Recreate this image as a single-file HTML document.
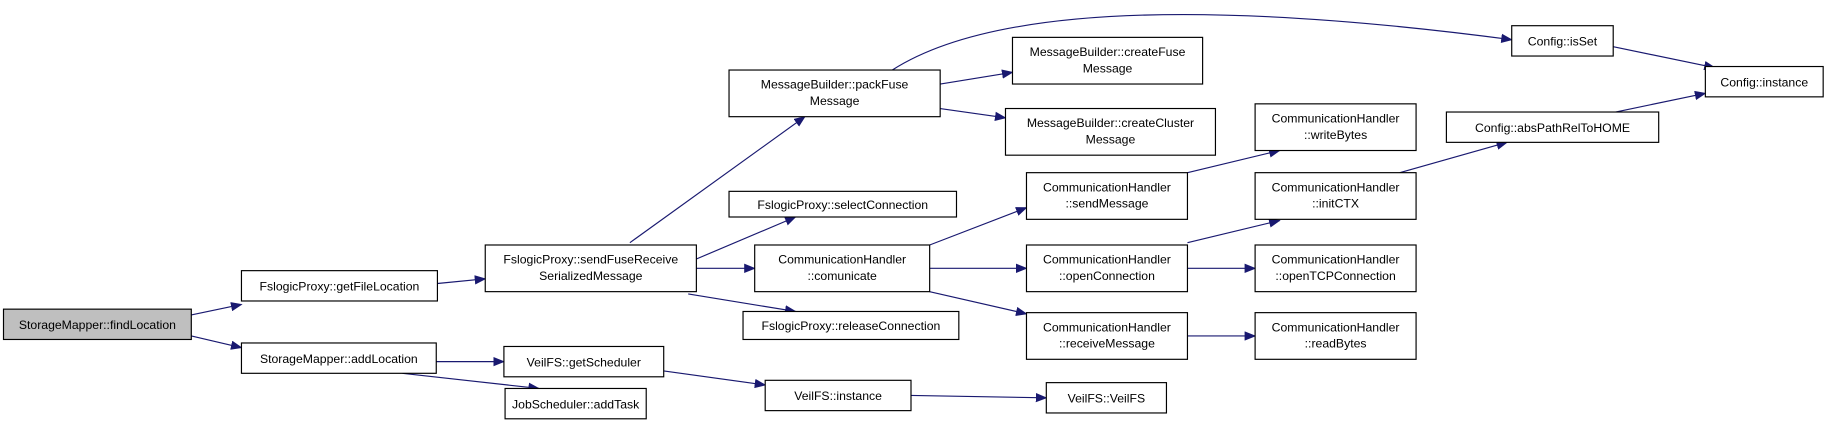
<!DOCTYPE html>
<html><head><meta charset="utf-8"><style>
html,body{margin:0;padding:0;background:#fff;}
svg{display:block;}
text{font-family:"Liberation Sans",sans-serif;font-size:10.5px;fill:#000;text-anchor:middle;}
rect{fill:#fff;stroke:#000;stroke-width:1;}
.e{stroke:#191970;stroke-width:1;fill:none;marker-end:url(#a);}
</style></head><body>
<svg width="1829" height="434" viewBox="0 0 1568 372" xmlns="http://www.w3.org/2000/svg">
<defs><marker id="a" markerWidth="10" markerHeight="8" refX="9" refY="4" orient="auto" markerUnits="userSpaceOnUse"><path d="M0,0 L10,4 L0,8 z" fill="#191970"/></marker></defs>

<path class="e" d="M164,270 L207,261"/>
<path class="e" d="M164,288 L207,298"/>
<path class="e" d="M375,243 L416,239"/>
<path class="e" d="M374,310 L432,310"/>
<path class="e" d="M345,320 L462,333"/>
<path class="e" d="M540,208 L690,100"/>
<path class="e" d="M597,222 L682,186"/>
<path class="e" d="M597,230 L647,230"/>
<path class="e" d="M590,252 L682,267"/>
<path class="e" d="M765,60 C840,12 1000,-5 1296,34"/>
<path class="e" d="M806,72 L868,62"/>
<path class="e" d="M806,93 L862,101"/>
<path class="e" d="M797,210 L880,178"/>
<path class="e" d="M797,230 L880,230"/>
<path class="e" d="M797,250 L880,269"/>
<path class="e" d="M1018,148 L1097,129"/>
<path class="e" d="M1018,208 L1097,189"/>
<path class="e" d="M1018,230 L1076,230"/>
<path class="e" d="M1018,288 L1076,288"/>
<path class="e" d="M1200,148 L1292,122"/>
<path class="e" d="M1385,96 L1462,80"/>
<path class="e" d="M1383,40 L1470,58"/>
<path class="e" d="M569,318 L656,330"/>
<path class="e" d="M781,339 L897,341"/>

<rect x="3" y="265" width="161" height="26" style="fill:#bfbfbf"/><text x="83.5" y="282">StorageMapper::findLocation</text>
<rect x="207" y="232" width="168" height="26"/><text x="291" y="249">FslogicProxy::getFileLocation</text>
<rect x="207" y="294" width="167" height="26"/><text x="290.5" y="311">StorageMapper::addLocation</text>
<rect x="416" y="210" width="181" height="40"/><text x="506.5" y="226">FslogicProxy::sendFuseReceive</text><text x="506.5" y="240">SerializedMessage</text>
<rect x="625" y="60" width="181" height="40"/><text x="715.5" y="76">MessageBuilder::packFuse</text><text x="715.5" y="90">Message</text>
<rect x="868" y="32" width="163" height="40"/><text x="949.5" y="48">MessageBuilder::createFuse</text><text x="949.5" y="62">Message</text>
<rect x="862" y="93" width="180" height="40"/><text x="952" y="109">MessageBuilder::createCluster</text><text x="952" y="123">Message</text>
<rect x="625" y="164" width="195" height="22"/><text x="722.5" y="179">FslogicProxy::selectConnection</text>
<rect x="647" y="210" width="150" height="40"/><text x="722" y="226">CommunicationHandler</text><text x="722" y="240">::comunicate</text>
<rect x="637" y="267" width="185" height="24"/><text x="729.5" y="283">FslogicProxy::releaseConnection</text>
<rect x="880" y="148" width="138" height="40"/><text x="949" y="164">CommunicationHandler</text><text x="949" y="178">::sendMessage</text>
<rect x="880" y="210" width="138" height="40"/><text x="949" y="226">CommunicationHandler</text><text x="949" y="240">::openConnection</text>
<rect x="880" y="268" width="138" height="40"/><text x="949" y="284">CommunicationHandler</text><text x="949" y="298">::receiveMessage</text>
<rect x="1076" y="89" width="138" height="40"/><text x="1145" y="105">CommunicationHandler</text><text x="1145" y="119">::writeBytes</text>
<rect x="1076" y="148" width="138" height="40"/><text x="1145" y="164">CommunicationHandler</text><text x="1145" y="178">::initCTX</text>
<rect x="1076" y="210" width="138" height="40"/><text x="1145" y="226">CommunicationHandler</text><text x="1145" y="240">::openTCPConnection</text>
<rect x="1076" y="268" width="138" height="40"/><text x="1145" y="284">CommunicationHandler</text><text x="1145" y="298">::readBytes</text>
<rect x="1296" y="22" width="87" height="26"/><text x="1339.5" y="39">Config::isSet</text>
<rect x="1462" y="57" width="101" height="26"/><text x="1512.5" y="74">Config::instance</text>
<rect x="1240" y="96" width="182" height="26"/><text x="1331" y="113">Config::absPathRelToHOME</text>
<rect x="432" y="297" width="137" height="26"/><text x="500.5" y="314">VeilFS::getScheduler</text>
<rect x="433" y="333" width="121" height="26"/><text x="493.5" y="350">JobScheduler::addTask</text>
<rect x="656" y="326" width="125" height="26"/><text x="718.5" y="343">VeilFS::instance</text>
<rect x="897" y="328" width="103" height="26"/><text x="948.5" y="345">VeilFS::VeilFS</text>
</svg>
</body></html>
